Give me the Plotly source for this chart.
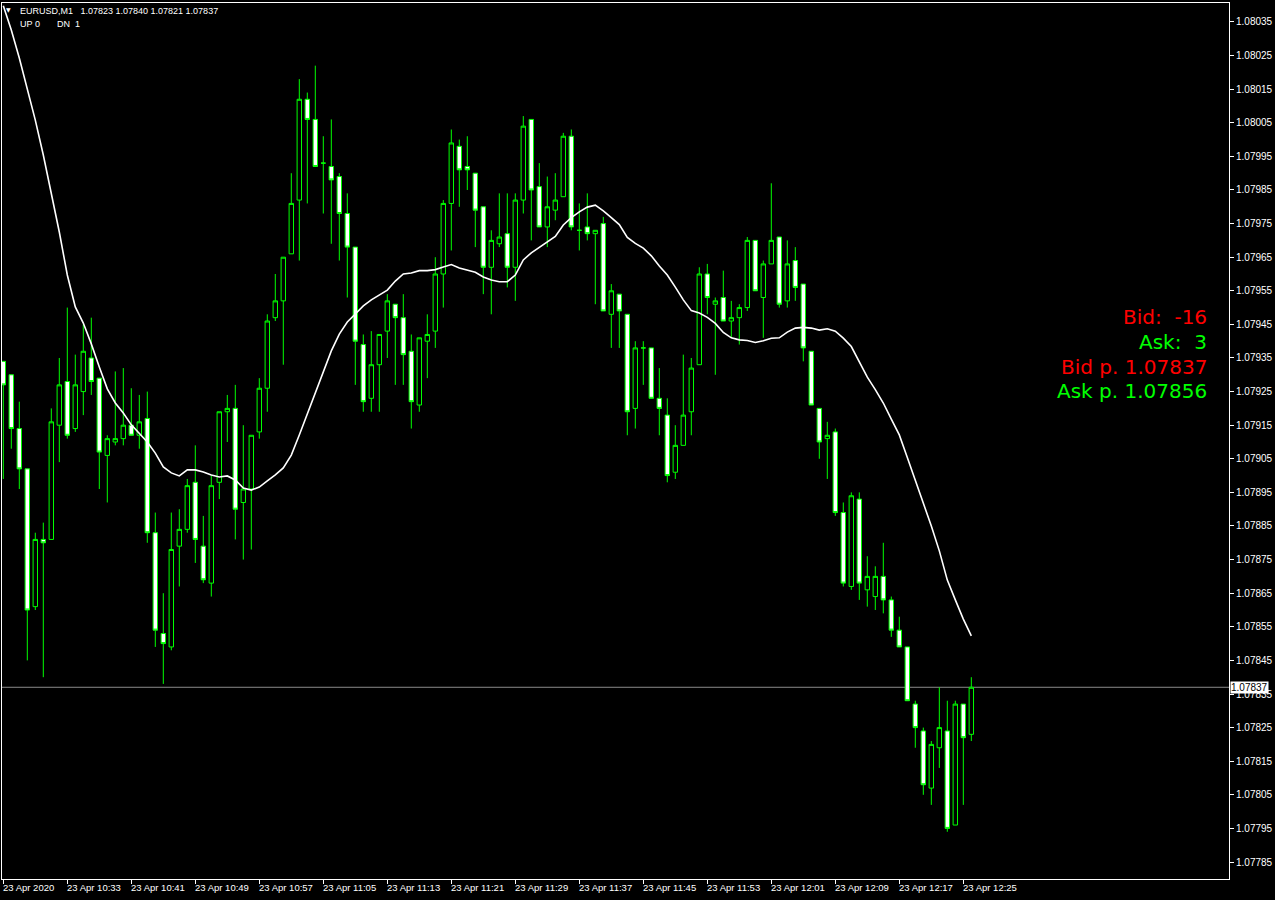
import plotly.graph_objects as go

# ---- data (EURUSD M1, 23 Apr 2020, 10:25 .. 12:26) ----
opens = [1.07934,1.07930,1.07914,1.07902,1.07861,1.07881,1.07881,1.07915,1.07928,1.07914,
         1.07925,1.07935,1.07929,1.07906,1.07910,1.07911,1.07915,1.07912,1.07917,1.07883,
         1.07853,1.07849,1.07879,1.07884,1.07898,1.07879,1.07868,1.07898,1.07919,1.07920,
         1.07892,1.07896,1.07913,1.07926,1.07947,1.07952,1.07966,1.07982,1.08012,1.08006,
         1.07993,1.07992,1.07989,1.07978,1.07968,1.07939,1.07923,1.07933,1.07943,1.07951,
         1.07947,1.07937,1.07921,1.07940,1.07943,1.07960,1.07981,1.07998,1.07992,1.07990,
         1.07980,1.07962,1.07969,1.07972,1.07962,1.07982,1.08006,1.07986,1.07974,1.07979,
         1.07983,1.08001,1.07973,1.07974,1.07972,1.07975,1.07948,1.07954,1.07948,1.07920,
         1.07938,1.07938,1.07923,1.07918,1.07901,1.07909,1.07919,1.07933,1.07960,1.07951,
         1.07953,1.07946,1.07947,1.07950,1.07970,1.07953,1.07963,1.07971,1.07952,1.07964,
         1.07957,1.07937,1.07920,1.07911,1.07913,1.07889,1.07867,1.07893,1.07866,1.07864,
         1.07870,1.07863,1.07854,1.07849,1.07832,1.07824,1.07807,1.07819,1.07824,1.07796,
         1.07832,1.07823]
highs = [1.07934,1.07930,1.07922,1.07902,1.07883,1.07886,1.07920,1.07935,1.07950,1.07936,
         1.07945,1.07947,1.07929,1.07912,1.07931,1.07932,1.07926,1.07924,1.07925,1.07889,
         1.07865,1.07889,1.07890,1.07899,1.07909,1.07888,1.07900,1.07919,1.07924,1.07927,
         1.07915,1.07912,1.07929,1.07948,1.07960,1.07965,1.07990,1.08018,1.08014,1.08022,
         1.08001,1.08006,1.07990,1.07984,1.07968,1.07942,1.07943,1.07942,1.07954,1.07951,
         1.07954,1.07942,1.07941,1.07948,1.07965,1.07982,1.08003,1.08000,1.08001,1.07990,
         1.07980,1.07973,1.07984,1.07984,1.07984,1.08007,1.08006,1.07993,1.07989,1.07990,
         1.08002,1.08003,1.07981,1.07984,1.07973,1.07977,1.07957,1.07954,1.07948,1.07940,
         1.07940,1.07938,1.07932,1.07923,1.07915,1.07936,1.07935,1.07962,1.07963,1.07953,
         1.07961,1.07952,1.07951,1.07971,1.07970,1.07964,1.07987,1.07971,1.07970,1.07968,
         1.07957,1.07937,1.07920,1.07916,1.07914,1.07892,1.07895,1.07895,1.07876,1.07873,
         1.07880,1.07864,1.07858,1.07849,1.07833,1.07825,1.07821,1.07837,1.07833,1.07833,
         1.07832,1.07840]
lows = [1.07899,1.07908,1.07896,1.07845,1.07860,1.07840,1.07881,1.07904,1.07911,1.07913,
        1.07918,1.07924,1.07896,1.07892,1.07909,1.07909,1.07912,1.07908,1.07880,1.07849,
        1.07838,1.07848,1.07867,1.07883,1.07874,1.07868,1.07864,1.07893,1.07910,1.07881,
        1.07875,1.07878,1.07911,1.07919,1.07946,1.07933,1.07966,1.07964,1.07981,1.07992,
        1.07978,1.07969,1.07964,1.07953,1.07927,1.07919,1.07919,1.07919,1.07935,1.07927,
        1.07927,1.07914,1.07919,1.07929,1.07938,1.07950,1.07967,1.07980,1.07985,1.07968,
        1.07954,1.07948,1.07968,1.07956,1.07952,1.07978,1.07970,1.07974,1.07968,1.07976,
        1.07983,1.07973,1.07967,1.07970,1.07951,1.07949,1.07938,1.07938,1.07912,1.07914,
        1.07927,1.07923,1.07912,1.07898,1.07899,1.07909,1.07912,1.07933,1.07948,1.07930,
        1.07946,1.07941,1.07939,1.07949,1.07955,1.07941,1.07963,1.07950,1.07950,1.07952,
        1.07934,1.07921,1.07905,1.07899,1.07888,1.07867,1.07866,1.07863,1.07861,1.07860,
        1.07859,1.07852,1.07849,1.07833,1.07819,1.07805,1.07802,1.07813,1.07794,1.07796,
        1.07802,1.07821]
closes = [1.07927,1.07914,1.07902,1.07860,1.07881,1.07880,1.07916,1.07927,1.07912,1.07927,
          1.07937,1.07928,1.07907,1.07911,1.07911,1.07915,1.07912,1.07916,1.07883,1.07854,
          1.07850,1.07878,1.07884,1.07897,1.07881,1.07869,1.07897,1.07919,1.07920,1.07890,
          1.07896,1.07912,1.07926,1.07946,1.07952,1.07965,1.07981,1.08012,1.08006,1.07992,
          1.07993,1.07988,1.07978,1.07968,1.07940,1.07922,1.07933,1.07942,1.07952,1.07947,
          1.07936,1.07922,1.07941,1.07942,1.07960,1.07981,1.07999,1.07991,1.07991,1.07979,
          1.07962,1.07970,1.07971,1.07962,1.07982,1.08004,1.07985,1.07974,1.07980,1.07982,
          1.08001,1.07974,1.07973,1.07972,1.07973,1.07949,1.07955,1.07949,1.07919,1.07938,
          1.07938,1.07923,1.07920,1.07900,1.07909,1.07918,1.07932,1.07960,1.07953,1.07952,
          1.07946,1.07947,1.07950,1.07970,1.07955,1.07963,1.07970,1.07951,1.07963,1.07956,
          1.07938,1.07921,1.07910,1.07912,1.07889,1.07868,1.07894,1.07868,1.07870,1.07870,
          1.07863,1.07854,1.07849,1.07833,1.07825,1.07808,1.07820,1.07825,1.07795,1.07832,
          1.07822,1.07837]
ma = [1.080398,1.080326,1.080243,1.080154,1.080058,1.079954,1.079844,1.079725,1.079597,1.079502,
      1.079454,1.079392,1.079323,1.079258,1.079216,1.079186,1.079151,1.079124,1.079100,1.079067,
      1.079026,1.079008,1.078999,1.079017,1.079017,1.079011,1.079002,1.078996,1.078999,1.078987,
      1.078963,1.078957,1.078966,1.078984,1.079002,1.079023,1.079061,1.079121,1.079183,1.079249,
      1.079311,1.079371,1.079421,1.079457,1.079481,1.079505,1.079523,1.079538,1.079552,1.079579,
      1.079600,1.079603,1.079610,1.079610,1.079613,1.079621,1.079628,1.079618,1.079612,1.079605,
      1.079591,1.079582,1.079577,1.079577,1.079597,1.079642,1.079663,1.079680,1.079695,1.079712,
      1.079746,1.079768,1.079785,1.079799,1.079805,1.079788,1.079768,1.079747,1.079709,1.079691,
      1.079677,1.079654,1.079624,1.079597,1.079561,1.079523,1.079491,1.079484,1.079471,1.079453,
      1.079426,1.079410,1.079404,1.079402,1.079396,1.079401,1.079409,1.079410,1.079427,1.079439,
      1.079441,1.079439,1.079433,1.079437,1.079430,1.079409,1.079384,1.079338,1.079293,1.079256,
      1.079216,1.079168,1.079121,1.079054,1.078987,1.078921,1.078850,1.078776,1.078689,1.078630,
      1.078573,1.078523]

tick_index = [0, 8, 16, 24, 32, 40, 48, 56, 64, 72, 80, 88, 96, 104, 112, 120]
tick_labels = ["23 Apr 2020", "23 Apr 10:33", "23 Apr 10:41", "23 Apr 10:49", "23 Apr 10:57",
               "23 Apr 11:05", "23 Apr 11:13", "23 Apr 11:21", "23 Apr 11:29", "23 Apr 11:37",
               "23 Apr 11:45", "23 Apr 11:53", "23 Apr 12:01", "23 Apr 12:09", "23 Apr 12:17",
               "23 Apr 12:25"]
price_ticks = [1.08035, 1.08025, 1.08015, 1.08005, 1.07995, 1.07985, 1.07975, 1.07965, 1.07955,
               1.07945, 1.07935, 1.07925, 1.07915, 1.07905, 1.07895, 1.07885, 1.07875, 1.07865,
               1.07855, 1.07845, 1.07835, 1.07825, 1.07815, 1.07805, 1.07795, 1.07785]
header = "EURUSD,M1\u00a0\u00a0 1.07823 1.07840 1.07821 1.07837"
bid_points, ask_points = -16, 3
bid_price, ask_price = 1.07837, 1.07856
current_price = 1.07837

idx = list(range(len(opens)))
GREEN = "#00ff00"

fig = go.Figure()
fig.add_trace(go.Candlestick(
    x=idx, open=opens, high=highs, low=lows, close=closes,
    increasing=dict(line=dict(color=GREEN, width=1), fillcolor="black"),
    decreasing=dict(line=dict(color=GREEN, width=1), fillcolor="white"),
    whiskerwidth=0, hoverinfo="skip", showlegend=False,
))
fig.add_trace(go.Scatter(x=idx, y=ma, mode="lines", line=dict(color="white", width=1.6),
                         hoverinfo="skip", showlegend=False))

fig.add_shape(type="line", xref="paper", x0=0, x1=1, yref="y", y0=current_price, y1=current_price,
              line=dict(color="#8a8a8a", width=1), layer="below")

W, H = 1275, 900
L, R, T, B = 2, 46, 3, 21
pw, ph = W - L - R, H - T - B

def px_x(px):
    return (px - L) / pw

def px_y(py):
    return (H - B - py) / ph

ann = []
for k, lab in zip(tick_index, tick_labels):
    ann.append(dict(x=k, xref="x", y=px_y(888), yref="paper", text=lab, showarrow=False,
                    xanchor="left", yanchor="middle", xshift=-2,
                    font=dict(family="Liberation Sans", size=9.5, color="white")))
ann.append(dict(x=px_x(18), xref="paper", y=px_y(11), yref="paper", text=header, showarrow=False,
                xanchor="left", yanchor="middle",
                font=dict(family="Liberation Sans", size=9, color="white")))
ann.append(dict(x=px_x(18), xref="paper", y=px_y(24), yref="paper", text="UP\u00a00", showarrow=False,
                xanchor="left", yanchor="middle",
                font=dict(family="Liberation Sans", size=9, color="white")))
ann.append(dict(x=px_x(55), xref="paper", y=px_y(24), yref="paper", text="DN\u00a0\u00a01", showarrow=False,
                xanchor="left", yanchor="middle",
                font=dict(family="Liberation Sans", size=9, color="white")))
ann.append(dict(x=px_x(8), xref="paper", y=px_y(10), yref="paper", text="\u25bc", showarrow=False,
                xanchor="center", yanchor="middle",
                font=dict(family="DejaVu Sans", size=6, color="white")))
info = [(f"Bid:\u00a0\u00a0{bid_points}", "#ff0000", 317),
        (f"Ask:\u00a0\u00a0{ask_points}", GREEN, 342),
        (f"Bid p. {bid_price:.5f}", "#ff0000", 366.5),
        (f"Ask p. {ask_price:.5f}", GREEN, 391)]
for txt, col, yy in info:
    ann.append(dict(x=px_x(1209), xref="paper", y=px_y(yy), yref="paper", text=txt, showarrow=False,
                    xanchor="right", yanchor="middle",
                    font=dict(family="DejaVu Sans", size=20, color=col)))
ann.append(dict(x=1, xref="paper", y=current_price, yref="y", text=f"{current_price:.5f}",
                showarrow=False, xanchor="left", yanchor="middle", xshift=1,
                bgcolor="white", borderpad=0,
                font=dict(family="Liberation Sans", size=10, color="black")))

fig.update_layout(
    width=W, height=H, margin=dict(l=L, r=R, t=T, b=B),
    paper_bgcolor="black", plot_bgcolor="black",
    boxgap=0.45, boxgroupgap=0,
    annotations=ann,
    xaxis=dict(range=[-0.1625, 153.21], showgrid=False, zeroline=False,
               showline=True, linecolor="white", linewidth=1, mirror=True,
               tickvals=tick_index, showticklabels=False, ticks="outside", ticklen=4,
               tickcolor="white", rangeslider=dict(visible=False), fixedrange=True),
    yaxis=dict(range=[1.0777994, 1.0804065], side="right", showgrid=False, zeroline=False,
               showline=True, linecolor="white", linewidth=1, mirror=True,
               tickvals=price_ticks, ticktext=[f"{p:.5f}" for p in price_ticks],
               ticks="outside", ticklen=4, tickcolor="white",
               tickfont=dict(family="Liberation Sans", size=10, color="white"), fixedrange=True),
)

fig.write_html("out.html", config={"displayModeBar": False},
               post_script="document.body.style.margin='0';document.body.style.background='black';")
